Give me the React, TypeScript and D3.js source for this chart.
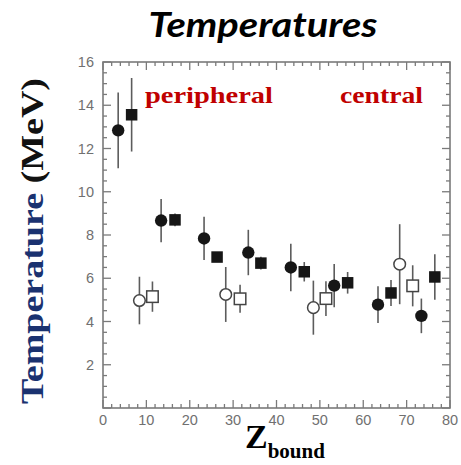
import React from "react";
import * as d3 from "d3";

// peripheral -> central, four data sets
const filledCircleX = [3.5, 13.4, 23.3, 33.5, 43.3, 53.3, 63.4, 73.4];
const filledCircleY = [12.84, 8.67, 7.84, 7.19, 6.5, 5.66, 4.78, 4.26];
const filledCircleErr = [1.75, 1.0, 1.0, 1.05, 1.1, 1.0, 0.85, 0.8];

const filledSquareX = [6.6, 16.6, 26.3, 36.4, 46.4, 56.4, 66.4, 76.5];
const filledSquareY = [13.56, 8.7, 6.98, 6.7, 6.3, 5.79, 5.32, 6.06];
const filledSquareErr = [1.7, 0.3, 0.2, 0.3, 0.45, 0.5, 0.6, 1.05];

const openCircleX = [8.4, 28.3, 48.5, 68.4];
const openCircleY = [4.97, 5.25, 4.64, 6.65];
const openCircleErr = [1.1, 1.27, 1.25, 1.85];

const openSquareX = [11.4, 31.6, 51.4, 71.4];
const openSquareY = [5.15, 5.05, 5.06, 5.65];
const openSquareErr = [0.7, 0.65, 0.8, 0.95];

const xTickLabels = [0, 10, 20, 30, 40, 50, 60, 70, 80];
const yTickLabels = [2, 4, 6, 8, 10, 12, 14, 16];

const W = 461;
const H = 465;
const margin = { top: 62, right: 11, bottom: 57, left: 103 };

export default function App() {
  const x = d3.scaleLinear().domain([0, 80]).range([margin.left, W - margin.right]);
  const y = d3.scaleLinear().domain([0, 16]).range([H - margin.bottom, margin.top]);

  const x0 = x(0), x1 = x(80), y0 = y(0), y1 = y(16);
  const frame = "#7a7a7a";
  const label = "#707070";
  const ink = "#161616";
  const errCol = "#5c5c5c";

  const xMinor = x.ticks(40);
  const yMinor = y.ticks(32);

  const errBars = (xs: number[], ys: number[], es: number[], key: string) =>
    xs.map((d, i) => (
      <line key={key + i} x1={x(d)} x2={x(d)} y1={y(ys[i] - es[i])} y2={y(ys[i] + es[i])}
        stroke={errCol} strokeWidth={1.6} />
    ));

  const r = 5.8;
  const s = 11.5;

  return (
    <svg width={W} height={H} style={{ position: "absolute", left: 0, top: 0, background: "#fff" }}>
      <text x={263} y={37} textAnchor="middle" fontFamily="Lato, 'Open Sans', sans-serif"
        fontWeight="bold" fontStyle="italic" fontSize={34} fill="#000"
        textLength={229} lengthAdjust="spacingAndGlyphs">Temperatures</text>

      {/* ticks */}
      {xMinor.map((t) => {
        const major = t % 10 === 0;
        const len = major ? 8 : 4;
        return (
          <g key={"xt" + t}>
            <line x1={x(t)} x2={x(t)} y1={y0} y2={y0 - len} stroke={frame} strokeWidth={1.3} />
            <line x1={x(t)} x2={x(t)} y1={y1} y2={y1 + len} stroke={frame} strokeWidth={1.3} />
          </g>
        );
      })}
      {yMinor.map((t) => {
        const major = t % 2 === 0;
        const len = major ? 8 : 4;
        return (
          <g key={"yt" + t}>
            <line x1={x0} x2={x0 + len} y1={y(t)} y2={y(t)} stroke={frame} strokeWidth={1.3} />
            <line x1={x1} x2={x1 - len} y1={y(t)} y2={y(t)} stroke={frame} strokeWidth={1.3} />
          </g>
        );
      })}
      <rect x={x0} y={y1} width={x1 - x0} height={y0 - y1} fill="none" stroke={frame} strokeWidth={1.6} />

      {xTickLabels.map((t) => (
        <text key={"xl" + t} x={x(t)} y={y0 + 17} textAnchor="middle" fontFamily="'Liberation Sans', Arial, sans-serif"
          fontSize={14.5} fill={label}>{t}</text>
      ))}
      {yTickLabels.map((t) => (
        <text key={"yl" + t} x={x0 - 9} y={y(t) + 5} textAnchor="end" fontFamily="'Liberation Sans', Arial, sans-serif"
          fontSize={14.5} fill={label}>{t}</text>
      ))}

      {/* error bars */}
      {errBars(filledCircleX, filledCircleY, filledCircleErr, "ec")}
      {errBars(filledSquareX, filledSquareY, filledSquareErr, "es")}
      {errBars(openCircleX, openCircleY, openCircleErr, "eo")}
      {errBars(openSquareX, openSquareY, openSquareErr, "eq")}

      {/* markers */}
      {filledCircleX.map((d, i) => (
        <circle key={"fc" + i} cx={x(d)} cy={y(filledCircleY[i])} r={r + 0.4} fill={ink} />
      ))}
      {filledSquareX.map((d, i) => (
        <rect key={"fs" + i} x={x(d) - s / 2} y={y(filledSquareY[i]) - s / 2} width={s} height={s} fill={ink} />
      ))}
      {openCircleX.map((d, i) => (
        <circle key={"oc" + i} cx={x(d)} cy={y(openCircleY[i])} r={r} fill="#fff" stroke="#444" strokeWidth={1.5} />
      ))}
      {openSquareX.map((d, i) => (
        <rect key={"os" + i} x={x(d) - s / 2} y={y(openSquareY[i]) - s / 2} width={s} height={s}
          fill="#fff" stroke="#444" strokeWidth={1.5} />
      ))}

      {/* annotations */}
      <text x={145} y={103} fontFamily="'Liberation Serif', 'DejaVu Serif', serif" fontWeight="bold" fontSize={24}
        fill="#c00000" textLength={128} lengthAdjust="spacingAndGlyphs">peripheral</text>
      <text x={340} y={103} fontFamily="'Liberation Serif', 'DejaVu Serif', serif" fontWeight="bold" fontSize={24}
        fill="#c00000" textLength={83} lengthAdjust="spacingAndGlyphs">central</text>

      {/* y axis title */}
      <text transform={`translate(43,${(y0 + y1) / 2 + 6}) rotate(-90)`} textAnchor="middle"
        fontFamily="'Liberation Serif', 'DejaVu Serif', serif" fontWeight="bold" fontSize={31}
        textLength={326} lengthAdjust="spacingAndGlyphs">
        <tspan fill="#1a3270">Temperature </tspan>
        <tspan fill="#111">(MeV)</tspan>
      </text>

      {/* x axis title */}
      <text x={245} y={448} fontFamily="'Liberation Serif', 'DejaVu Serif', serif" fontWeight="bold" fill="#000">
        <tspan fontSize={34}>Z</tspan>
        <tspan fontSize={21} dy={10}>bound</tspan>
      </text>
    </svg>
  );
}
